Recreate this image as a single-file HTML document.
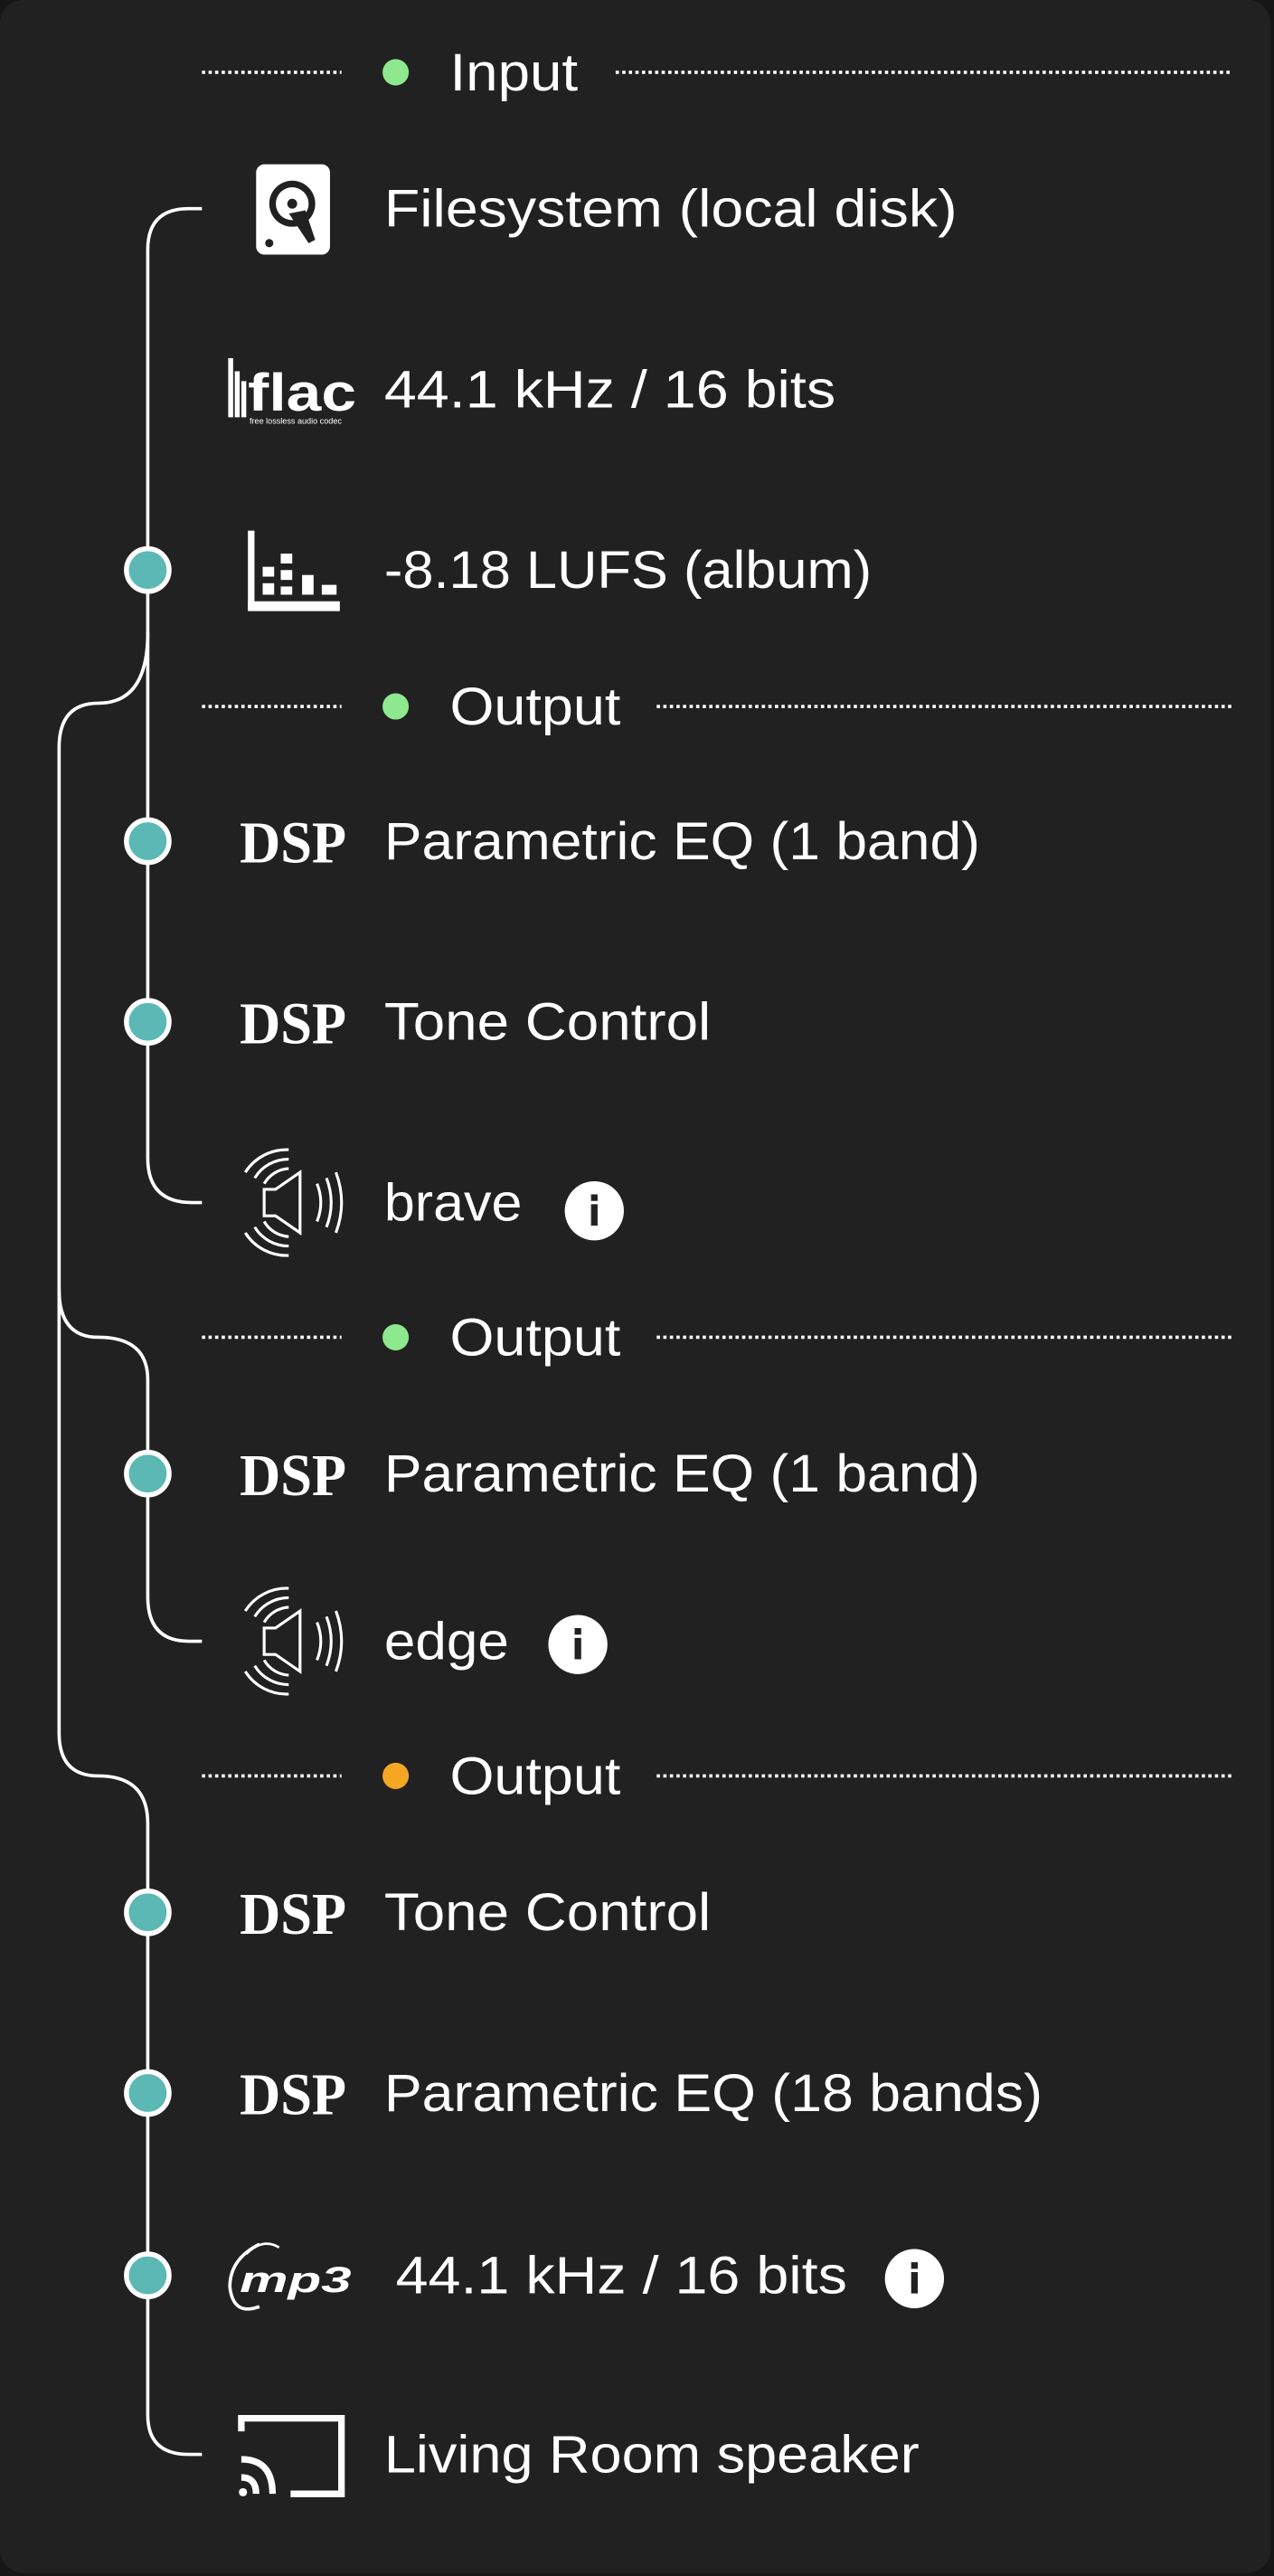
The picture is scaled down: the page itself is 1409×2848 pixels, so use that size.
<!DOCTYPE html>
<html><head><meta charset="utf-8"><style>
html,body{margin:0;padding:0;background:#161616;}
svg{display:block;}
text{font-family:"Liberation Sans",sans-serif;fill:#fff;}
</style></head><body>
<svg width="1409" height="2848" viewBox="0 0 776 1568" preserveAspectRatio="none" xmlns="http://www.w3.org/2000/svg">
<rect x="0" y="0" width="776" height="1568" fill="#161616"/>
<rect x="0" y="0" width="774" height="1566" rx="14" fill="#212121"/>
<g stroke="#fff" stroke-width="2" stroke-dasharray="2 2">
<line x1="123" y1="44" x2="208" y2="44"/><line x1="375" y1="44" x2="751" y2="44"/>
<line x1="123" y1="430" x2="208" y2="430"/><line x1="400" y1="430" x2="751" y2="430"/>
<line x1="123" y1="814" x2="208" y2="814"/><line x1="400" y1="814" x2="751" y2="814"/>
<line x1="123" y1="1081" x2="208" y2="1081"/><line x1="400" y1="1081" x2="751" y2="1081"/>
</g>
<circle cx="241" cy="44" r="8" fill="#8ee88e"/>
<circle cx="241" cy="430" r="8" fill="#8ee88e"/>
<circle cx="241" cy="814" r="8" fill="#8ee88e"/>
<circle cx="241" cy="1081" r="8" fill="#f5a623"/>
<g font-size="32">
<text x="274" y="55" textLength="78" lengthAdjust="spacingAndGlyphs">Input</text>
<text x="274" y="441" textLength="104" lengthAdjust="spacingAndGlyphs">Output</text>
<text x="274" y="825" textLength="104" lengthAdjust="spacingAndGlyphs">Output</text>
<text x="274" y="1092" textLength="104" lengthAdjust="spacingAndGlyphs">Output</text>
<text x="234" y="138" textLength="349" lengthAdjust="spacingAndGlyphs">Filesystem (local disk)</text>
<text x="234" y="248" textLength="275" lengthAdjust="spacingAndGlyphs">44.1 kHz / 16 bits</text>
<text x="234" y="358" textLength="297" lengthAdjust="spacingAndGlyphs">-8.18 LUFS (album)</text>
<text x="234" y="523" textLength="363" lengthAdjust="spacingAndGlyphs">Parametric EQ (1 band)</text>
<text x="234" y="633" textLength="199" lengthAdjust="spacingAndGlyphs">Tone Control</text>
<text x="234" y="743" textLength="84" lengthAdjust="spacingAndGlyphs">brave</text>
<text x="234" y="908" textLength="363" lengthAdjust="spacingAndGlyphs">Parametric EQ (1 band)</text>
<text x="234" y="1010" textLength="76" lengthAdjust="spacingAndGlyphs">edge</text>
<text x="234" y="1175" textLength="199" lengthAdjust="spacingAndGlyphs">Tone Control</text>
<text x="234" y="1285" textLength="401" lengthAdjust="spacingAndGlyphs">Parametric EQ (18 bands)</text>
<text x="241" y="1396" textLength="275" lengthAdjust="spacingAndGlyphs">44.1 kHz / 16 bits</text>
<text x="234" y="1505" textLength="326" lengthAdjust="spacingAndGlyphs">Living Room speaker</text>
</g>
<g fill="none" stroke="#fff" stroke-width="2">
<path d="M123,127 H115 Q90,127 90,152 V705 Q90,732 117,732 H123"/>
<path d="M90,385 Q90,428 60,428 Q36,428 36,455 V1055 Q36,1081 60,1081 Q90,1081 90,1110 V1470 Q90,1494 115,1494 H123"/>
<path d="M36,785 Q36,814 60,814 Q90,814 90,840 V972 Q90,999 115,999 H123"/>
</g>
<g fill="#5bb8b4" stroke="#fff" stroke-width="3">
<circle cx="90" cy="347" r="13"/><circle cx="90" cy="512" r="13"/><circle cx="90" cy="622" r="13"/>
<circle cx="90" cy="897" r="13"/><circle cx="90" cy="1164" r="13"/><circle cx="90" cy="1274" r="13"/><circle cx="90" cy="1385" r="13"/>
</g>
<!-- HDD -->
<rect x="156" y="100" width="45" height="55" rx="5" fill="#fff"/>
<circle cx="178" cy="124" r="14" fill="#212121"/><circle cx="178" cy="124" r="10" fill="#fff"/>
<circle cx="178" cy="124" r="3" fill="#212121"/>
<path d="M176,130 L186,128 L192,146 L188,148 Z" fill="#212121"/>
<circle cx="164" cy="148" r="2.5" fill="#212121"/>
<!-- flac -->
<g fill="#fff"><rect x="139" y="218" width="3" height="36"/><rect x="143" y="226" width="3" height="28"/><rect x="147" y="232" width="3" height="22"/></g>
<text x="151" y="250" font-size="32" font-weight="bold" textLength="66" lengthAdjust="spacingAndGlyphs">flac</text>
<text x="152" y="258" font-size="5">free lossless audio codec</text>
<!-- LUFS bars -->
<g fill="#fff"><rect x="151" y="323" width="4" height="48"/><rect x="151" y="366" width="56" height="6"/>
<rect x="160" y="345" width="7" height="6"/><rect x="160" y="355" width="7" height="7"/>
<rect x="171" y="337" width="7" height="6"/><rect x="171" y="347" width="7" height="6"/><rect x="171" y="357" width="7" height="5"/>
<rect x="184" y="350" width="7" height="12"/><rect x="196" y="356" width="9" height="6"/></g>
<!-- DSP -->
<g font-weight="bold" font-size="36" fill="#f2f2f2">
<text x="146" y="525" textLength="65" lengthAdjust="spacingAndGlyphs" style="font-family:'Liberation Serif',serif">DSP</text>
<text x="146" y="635" textLength="65" lengthAdjust="spacingAndGlyphs" style="font-family:'Liberation Serif',serif">DSP</text>
<text x="146" y="910" textLength="65" lengthAdjust="spacingAndGlyphs" style="font-family:'Liberation Serif',serif">DSP</text>
<text x="146" y="1177" textLength="65" lengthAdjust="spacingAndGlyphs" style="font-family:'Liberation Serif',serif">DSP</text>
<text x="146" y="1287" textLength="65" lengthAdjust="spacingAndGlyphs" style="font-family:'Liberation Serif',serif">DSP</text>
</g>
<!-- speakers -->
<defs><g id="spk" fill="none" stroke="#fff" stroke-width="1.5">
<path d="M-14,-7 H-8 L5,-16 V16 L-8,7 H-14 Z"/>
<path d="M14,-10 Q18,0 14,10"/><path d="M19,-13 Q24,0 19,13"/><path d="M24,-16 Q30,0 24,16"/>
<path d="M-1,-28 A26,26 0 0 0 -24,-16"/><path d="M-1,-23 A21,21 0 0 0 -19,-13"/><path d="M-1,-18 A16,16 0 0 0 -14,-10"/>
<path d="M-1,28 A26,26 0 0 1 -24,16"/><path d="M-1,23 A21,21 0 0 1 -19,13"/><path d="M-1,18 A16,16 0 0 1 -14,10"/>
</g>
<g id="info"><circle r="18" fill="#fff"/><rect x="-2" y="-4" width="4" height="13" fill="#212121"/><rect x="-2" y="-10" width="4" height="4" fill="#212121"/></g></defs>
<g transform="translate(177,732) scale(1.15)"><use href="#spk"/></g>
<g transform="translate(177,999) scale(1.15)"><use href="#spk"/></g>
<use href="#info" x="362" y="737"/>
<use href="#info" x="352" y="1001"/>
<use href="#info" x="557" y="1387"/>
<!-- mp3 -->
<path d="M158,1366 Q140,1375 140,1392 Q142,1410 158,1404" fill="none" stroke="#fff" stroke-width="2"/>
<path d="M150,1372 Q160,1362 170,1368" fill="none" stroke="#fff" stroke-width="1.5"/>
<text x="146" y="1395" font-size="22" font-weight="bold" font-style="italic" textLength="68" lengthAdjust="spacingAndGlyphs">mp3</text>
<!-- cast -->
<g fill="none" stroke="#fff" stroke-width="4"><path d="M147,1480 V1472 H208 V1518 H177"/>
<path d="M147,1497 Q166,1497 166,1518"/><path d="M147,1508 Q156,1508 156,1518"/></g>
<circle cx="148" cy="1517" r="2.5" fill="#fff"/>
</svg>
</body></html>
